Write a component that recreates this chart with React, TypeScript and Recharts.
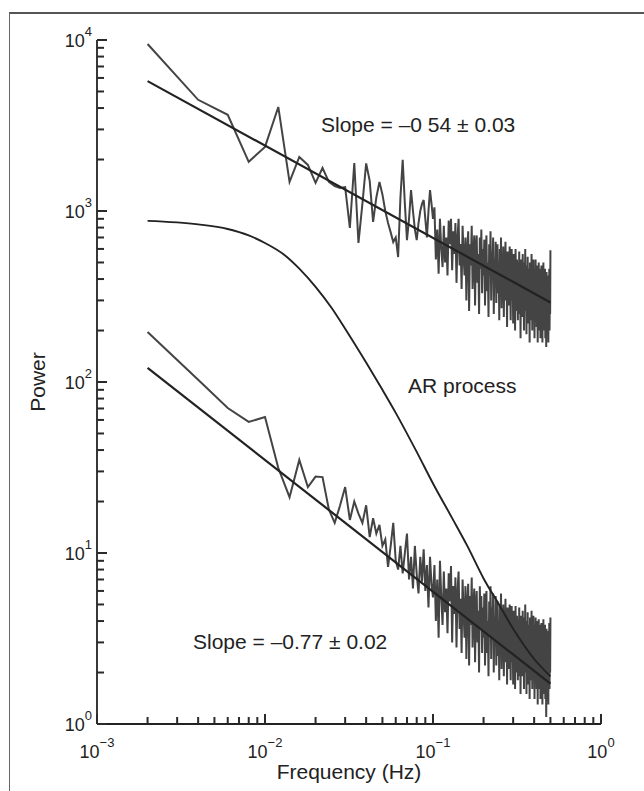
import { LineChart, Line, XAxis, YAxis } from 'recharts'

// periodogram grid: k * 0.002 Hz, k = 1..250
const FREQ_STEP = 0.002

const UPPER_POWER = [
  9480, 4470, 3650, 1940, 2370, 4060, 1480, 2070, 1860, 1460,
  1785, 1480, 1400, 1365, 1380, 796, 1910, 650, 1100, 1900,
  1500, 863, 1200, 1480, 1250, 1000, 851, 750, 659, 700,
  538, 1200, 1990, 1100, 676, 900, 1327, 1000, 780, 676,
  850, 1000, 1100, 1160, 900, 700, 1000, 1327, 1100, 900,
  1050, 520, 780, 430, 900, 600, 470, 820, 500, 700,
  420, 880, 640, 900, 450, 760, 560, 850, 380, 700,
  900, 480, 640, 350, 820, 560, 420, 700, 300, 600,
  760, 260, 640, 480, 820, 350, 560, 720, 280, 620,
  720, 380, 560, 250, 700, 460, 780, 330, 600, 420,
  680, 280, 560, 720, 340, 500, 240, 640, 420, 760,
  300, 580, 460, 700, 250, 520, 380, 660, 290, 540,
  640, 330, 500, 230, 600, 400, 700, 270, 480, 360,
  620, 240, 520, 400, 660, 300, 460, 210, 580, 350,
  540, 280, 620, 380, 230, 500, 600, 300, 440, 220,
  560, 340, 480, 200, 600, 380, 260, 520, 420, 230,
  500, 300, 580, 250, 420, 180, 520, 360, 470, 240,
  560, 300, 420, 200, 500, 330, 600, 260, 400, 190,
  480, 280, 540, 330, 220, 460, 380, 170, 500, 300,
  420, 230, 560, 300, 200, 450, 340, 520, 250, 380,
  180, 460, 300, 520, 240, 400, 210, 480, 330, 170,
  440, 270, 500, 200, 380, 290, 460, 180, 360, 250,
  480, 220, 340, 170, 430, 300, 500, 240, 200, 400,
  260, 460, 180, 380, 300, 160, 440, 240, 350, 190,
  420, 270, 170, 380, 230, 460, 200, 320, 250, 590,
]

const LOWER_POWER = [
  196, 103, 70.5, 58.4, 62.4, 31.4, 21.2, 35, 24.3, 28,
  27.8, 18, 15, 19, 24.3, 15.6, 20, 17, 15, 19,
  12.4, 16, 13, 14.6, 11, 12, 8.3, 11, 15, 9,
  8, 11, 7.6, 10, 13, 7, 9.5, 6.2, 11, 7.5,
  5.8, 9.5, 6.8, 10.5, 6, 8.5, 4.8, 9.5, 6.5, 5.5,
  8.5, 4.0, 7.0, 3.2, 9.0, 5.5, 3.8, 7.8, 4.5, 6.2,
  3.4, 7.6, 5.2, 8.4, 3.0, 6.4, 4.4, 7.2, 2.8, 6.0,
  7.8, 3.6, 5.4, 2.6, 7.0, 4.6, 3.2, 6.4, 2.4, 5.2,
  6.6, 2.2, 5.6, 3.8, 7.2, 2.8, 4.8, 6.2, 2.3, 5.0,
  6.0, 3.0, 4.6, 2.0, 6.4, 3.6, 5.6, 2.6, 4.8, 3.2,
  5.8, 2.2, 4.4, 6.0, 2.6, 4.0, 1.9, 5.2, 3.3, 6.4,
  2.4, 4.8, 3.6, 5.8, 2.0, 4.2, 3.0, 5.6, 2.2, 4.4,
  5.2, 2.5, 4.0, 1.8, 5.0, 3.1, 5.8, 2.1, 3.9, 2.8,
  5.0, 1.9, 4.2, 3.0, 5.4, 2.3, 3.7, 1.7, 4.8, 2.7,
  4.4, 2.1, 5.0, 3.0, 1.8, 4.0, 4.9, 2.3, 3.6, 1.7,
  4.6, 2.6, 3.9, 1.6, 4.9, 3.0, 2.0, 4.3, 3.3, 1.8,
  4.1, 2.3, 4.8, 1.9, 3.4, 1.5, 4.3, 2.8, 3.8, 1.9,
  4.6, 2.3, 3.4, 1.6, 4.2, 2.6, 5.0, 2.0, 3.2, 1.5,
  4.0, 2.2, 4.5, 2.6, 1.7, 3.8, 3.0, 1.4, 4.2, 2.4,
  3.5, 1.8, 4.6, 2.4, 1.6, 3.7, 2.7, 4.3, 1.9, 3.1,
  1.4, 3.8, 2.4, 4.2, 1.9, 3.2, 1.6, 4.0, 2.6, 1.3,
  3.6, 2.1, 4.1, 1.6, 3.1, 2.3, 3.8, 1.4, 2.9, 2.0,
  3.9, 1.7, 2.8, 1.3, 3.5, 2.4, 4.1, 1.9, 1.5, 3.2,
  2.1, 3.8, 1.4, 3.1, 2.4, 1.1, 3.6, 1.9, 2.9, 1.5,
  3.5, 2.2, 1.3, 3.2, 1.8, 3.9, 1.6, 2.7, 2.0, 4.2,
]

const AR_FREQ = [
  0.002, 0.004, 0.006, 0.008, 0.01, 0.013, 0.016, 0.02, 0.025, 0.03, 0.04,
  0.05, 0.06, 0.08, 0.1, 0.13, 0.16, 0.2, 0.25, 0.3, 0.4, 0.5,
]
const AR_POWER = [
  875, 835, 785, 720, 650, 555, 460, 360, 270, 205, 130,
  90, 66, 39, 25.5, 16, 11, 7.1, 4.9, 3.6, 2.4, 1.9,
]

const FIT_FREQ = [0.002, 0.5]
const UPPER_FIT = [5750, 292]
const LOWER_FIT = [121, 1.72]

const X_TICKS = [
  0.001, 0.002, 0.003, 0.004, 0.005, 0.006, 0.007, 0.008, 0.009,
  0.01, 0.02, 0.03, 0.04, 0.05, 0.06, 0.07, 0.08, 0.09,
  0.1, 0.2, 0.3, 0.4, 0.5, 0.6, 0.7, 0.8, 0.9, 1,
]
const Y_TICKS = [
  1, 2, 3, 4, 5, 6, 7, 8, 9,
  10, 20, 30, 40, 50, 60, 70, 80, 90,
  100, 200, 300, 400, 500, 600, 700, 800, 900,
  1000, 2000, 3000, 4000, 5000, 6000, 7000, 8000, 9000, 10000,
]

const FONT = '"Liberation Sans", Arial, Helvetica, sans-serif'
const INK = '#222'
const TICK_INK = '#2a2a2a'

const CHART_W = 644
const CHART_H = 791
const MARGIN = { top: 40, right: 43, bottom: 17, left: 37 }
const Y_AXIS_W = 60
const X_AXIS_H = 50
const PLOT_LEFT = MARGIN.left + Y_AXIS_W
const PLOT_BOTTOM = CHART_H - MARGIN.bottom - X_AXIS_H

const upper = UPPER_POWER.map((p, i) => ({ f: (i + 1) * FREQ_STEP, p }))
const lower = LOWER_POWER.map((p, i) => ({ f: (i + 1) * FREQ_STEP, p }))
const arCurve = AR_FREQ.map((f, i) => ({ f, p: AR_POWER[i] }))
const upperFit = FIT_FREQ.map((f, i) => ({ f, p: UPPER_FIT[i] }))
const lowerFit = FIT_FREQ.map((f, i) => ({ f, p: LOWER_FIT[i] }))

const decade = (v: number) => Math.round(Math.log10(v))
const isMajor = (v: number) => Math.abs(Math.log10(v) - decade(v)) < 1e-6
const expText = (e: number) => (e < 0 ? `\u2212${-e}` : `${e}`)

// ticks point into the plot, like the original figure
function XTick({ payload }: any) {
  const v = payload.value
  const major = isMajor(v)
  const x = payload.coordinate
  const y = PLOT_BOTTOM
  const len = major ? 10 : 7
  return (
    <g>
      <rect x={x - 1} y={y - len} width={2} height={len} fill={TICK_INK} stroke="none" />
      {major && (
        <text x={x} y={y + 34} textAnchor="middle" fontSize={18} fontFamily={FONT} fill={INK} stroke="none">
          10
          <tspan dy={-11} fontSize={13}>{expText(decade(v))}</tspan>
        </text>
      )}
    </g>
  )
}

function YTick({ payload }: any) {
  const v = payload.value
  const major = isMajor(v)
  const x = PLOT_LEFT
  const y = payload.coordinate
  const len = major ? 10 : 7
  return (
    <g>
      <rect x={x} y={y - 1} width={len} height={2} fill={TICK_INK} stroke="none" />
      {major && (
        <text x={x - 5} y={y + 6.5} textAnchor="end" fontSize={18} fontFamily={FONT} fill={INK} stroke="none">
          10
          <tspan dy={-11} fontSize={13}>{expText(decade(v))}</tspan>
        </text>
      )}
    </g>
  )
}

export default function App() {
  return (
    <div style={{ position: 'absolute', left: 0, top: 0, width: CHART_W, height: CHART_H, background: '#fff' }}>
      <div
        style={{
          position: 'absolute',
          left: 9,
          top: 12,
          width: 635,
          height: 779,
          borderTop: '2px solid #555',
          borderLeft: '1px solid #666',
          boxSizing: 'border-box',
        }}
      />
      <LineChart width={CHART_W} height={CHART_H} margin={MARGIN}>
        <XAxis
          dataKey="f"
          type="number"
          scale="log"
          domain={[0.001, 1]}
          ticks={X_TICKS}
          interval={0}
          allowDataOverflow
          height={X_AXIS_H}
          tickSize={0}
          tickMargin={0}
          tickLine={false}
          axisLine={{ stroke: '#222', strokeWidth: 1.8 }}
          tick={(props: any) => <XTick {...props} />}
        />
        <YAxis
          dataKey="p"
          type="number"
          scale="log"
          domain={[1, 10000]}
          ticks={Y_TICKS}
          interval={0}
          allowDataOverflow
          width={Y_AXIS_W}
          tickSize={0}
          tickMargin={0}
          tickLine={false}
          axisLine={{ stroke: '#222', strokeWidth: 1.8 }}
          tick={(props: any) => <YTick {...props} />}
        />
        <Line data={upper} dataKey="p" type="linear" stroke="#444" strokeWidth={2} dot={false} isAnimationActive={false} />
        <Line data={lower} dataKey="p" type="linear" stroke="#444" strokeWidth={2} dot={false} isAnimationActive={false} />
        <Line data={upperFit} dataKey="p" type="linear" stroke={INK} strokeWidth={2.2} dot={false} isAnimationActive={false} />
        <Line data={lowerFit} dataKey="p" type="linear" stroke={INK} strokeWidth={2.2} dot={false} isAnimationActive={false} />
        <Line data={arCurve} dataKey="p" type="monotone" stroke={INK} strokeWidth={1.9} dot={false} isAnimationActive={false} />
      </LineChart>
      <svg
        width={CHART_W}
        height={CHART_H}
        style={{ position: 'absolute', left: 0, top: 0, pointerEvents: 'none' }}
        fontFamily={FONT}
        fill={INK}
      >
        <text x={321} y={132} fontSize={21}>Slope = {'\u2013'}0 54 ± 0.03</text>
        <text x={408} y={393} fontSize={21}>AR process</text>
        <text x={193} y={649} fontSize={21}>Slope = {'\u2013'}0.77 ± 0.02</text>
        <text x={349} y={779} fontSize={21} textAnchor="middle">Frequency (Hz)</text>
        <text x={45} y={382} fontSize={21} textAnchor="middle" transform="rotate(-90 45 382)">Power</text>
      </svg>
    </div>
  )
}
